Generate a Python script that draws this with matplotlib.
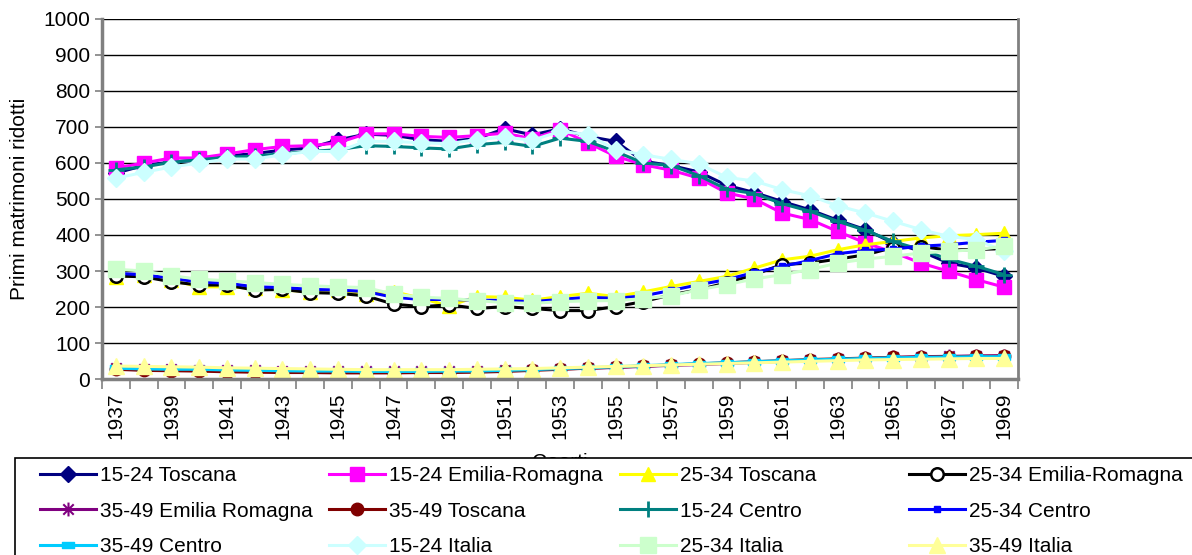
import matplotlib.pyplot as plt
from matplotlib.path import Path
from matplotlib.patches import Rectangle

anni = list(range(1937, 1970))

t_15_24 = [572, 593, 603, 608, 620, 626, 636, 642, 664, 680, 677, 665, 660, 668, 695, 678,
           695, 674, 660, 605, 593, 575, 538, 518, 493, 470, 441, 415, 378, 355, 322, 308, 285]
er_15_24 = [586, 600, 614, 614, 625, 637, 646, 648, 656, 681, 681, 674, 671, 676, 683, 667,
            693, 656, 619, 595, 580, 558, 517, 500, 461, 443, 410, 378, 352, 322, 299, 276, 255]
t_25_34 = [284, 289, 275, 256, 256, 252, 247, 243, 247, 236, 243, 224, 203, 229, 227, 219,
           229, 238, 229, 242, 257, 271, 285, 308, 331, 341, 359, 373, 382, 392, 398, 401, 405]
er_25_34 = [286, 284, 270, 261, 261, 247, 249, 240, 238, 231, 208, 201, 206, 196, 201, 196,
            190, 190, 201, 215, 234, 248, 267, 290, 318, 322, 333, 345, 365, 368, 358, 360, 362]
er_35_49 = [30, 28, 27, 26, 25, 24, 23, 22, 22, 21, 21, 21, 22, 22, 24, 26,
            28, 30, 32, 35, 38, 40, 43, 46, 49, 52, 55, 57, 60, 62, 63, 64, 65]
t_35_49 = [27, 24, 23, 22, 20, 19, 18, 18, 17, 17, 17, 18, 18, 19, 21, 24,
           27, 30, 33, 36, 39, 42, 45, 48, 51, 54, 56, 58, 60, 61, 62, 63, 63]
c_15_24 = [581, 589, 602, 609, 616, 619, 626, 632, 637, 648, 646, 642, 639, 651, 657, 646,
           669, 660, 632, 600, 593, 565, 527, 515, 487, 466, 438, 413, 382, 359, 333, 313, 290]
c_25_34 = [294, 289, 280, 269, 266, 256, 254, 249, 247, 243, 227, 221, 221, 219, 218, 215,
           221, 227, 224, 231, 246, 262, 276, 296, 313, 329, 348, 357, 361, 369, 373, 380, 385]
c_35_49 = [30, 28, 27, 27, 25, 24, 23, 22, 22, 21, 21, 21, 22, 22, 24, 26,
           29, 31, 34, 37, 40, 43, 45, 48, 51, 53, 55, 57, 59, 60, 61, 62, 62]
i_15_24 = [558, 574, 589, 600, 611, 611, 623, 632, 632, 660, 660, 656, 654, 665, 672, 663,
           688, 679, 637, 623, 610, 598, 560, 550, 526, 509, 481, 461, 438, 415, 396, 387, 355]
i_25_34 = [305, 300, 287, 277, 273, 268, 263, 259, 256, 254, 236, 227, 224, 218, 212, 210,
           215, 217, 218, 223, 231, 248, 262, 278, 290, 304, 322, 333, 341, 350, 355, 359, 369]
i_35_49 = [36, 35, 34, 33, 31, 30, 29, 28, 27, 26, 26, 26, 26, 27, 28, 29,
           31, 33, 35, 37, 39, 41, 43, 45, 47, 49, 51, 53, 54, 55, 56, 57, 57]

# asterisk marker: vertical bar plus an X
asterisco = Path([(0, -1), (0, 1), (-0.75, -0.75), (0.75, 0.75), (-0.75, 0.75), (0.75, -0.75)],
                 [Path.MOVETO, Path.LINETO, Path.MOVETO, Path.LINETO, Path.MOVETO, Path.LINETO])
trattino = Path([(-1, -0.55), (1, -0.55), (1, 0.55), (-1, 0.55), (-1, -0.55)],
                [Path.MOVETO, Path.LINETO, Path.LINETO, Path.LINETO, Path.CLOSEPOLY])

serie = [
    ("15-24 Toscana", t_15_24, dict(color='#000080', marker='D', ms=8)),
    ("15-24 Emilia-Romagna", er_15_24, dict(color='#FF00FF', marker='s', ms=10)),
    ("25-34 Toscana", t_25_34, dict(color='#FFFF00', marker='^', ms=10)),
    ("25-34 Emilia-Romagna", er_25_34, dict(color='black', marker='o', ms=9, mfc='white', mew=1.8)),
    ("35-49 Emilia Romagna", er_35_49, dict(color='#800080', marker=asterisco, ms=10, mew=1.5)),
    ("35-49 Toscana", t_35_49, dict(color='#800000', marker='o', ms=9)),
    ("15-24 Centro", c_15_24, dict(color='#008080', marker='+', ms=12, mew=2)),
    ("25-34 Centro", c_25_34, dict(color='#0000FF', marker='s', ms=4)),
    ("35-49 Centro", c_35_49, dict(color='#00CCFF', marker=trattino, ms=8)),
    ("15-24 Italia", i_15_24, dict(color='#CCFFFF', marker='D', ms=9)),
    ("25-34 Italia", i_25_34, dict(color='#CCFFCC', marker='s', ms=11)),
    ("35-49 Italia", i_35_49, dict(color='#FFFF99', marker='^', ms=12)),
]

plt.rcParams['font.family'] = ['Liberation Sans', 'DejaVu Sans']

fig = plt.figure(figsize=(11.92, 5.55), dpi=100)
ax = fig.add_axes([0.0856, 0.3171, 0.7685, 0.6487])

x = list(range(len(anni)))
handles = []
for nome, valori, stile in serie:
    h, = ax.plot(x, valori, lw=2.2, label=nome, **stile)
    handles.append(h)

ax.set_xlim(-0.5, len(anni) - 0.5)
ax.set_ylim(0, 1000)
ax.set_yticks(range(0, 1001, 100))
ax.yaxis.grid(True, color='black', lw=1)
ax.set_axisbelow(True)

ax.set_xticks(x[::2])
ax.set_xticklabels([str(a) for a in anni[::2]], rotation=90)
ax.set_xticks([i - 0.5 for i in range(len(anni) + 1)], minor=True)
ax.tick_params(axis='x', which='major', length=0, pad=10, labelsize=15)
ax.tick_params(axis='x', which='minor', length=7, width=1.2, color='#808080')
ax.tick_params(axis='y', length=5, width=1.2, color='#808080', labelsize=15)

for lato in ['left', 'bottom']:
    ax.spines[lato].set_color('#808080')
    ax.spines[lato].set_linewidth(2.5)
ax.spines['right'].set_color('#808080')
ax.spines['right'].set_linewidth(2)
ax.spines['top'].set_visible(False)

ax.set_ylabel('Primi matrimoni ridotti', fontsize=15, labelpad=10)
ax.set_xlabel('Coorti', fontsize=15, labelpad=10)

# legend box with four equally spaced columns
fig.patches.append(Rectangle((15 / 1192, -0.05), 1.0, 0.05 + 1 - 458 / 555,
                             transform=fig.transFigure, facecolor='white',
                             edgecolor='black', lw=1.2, zorder=4))
colonne = [[0, 4, 8], [1, 5, 9], [2, 6, 10], [3, 7, 11]]
x_col = [40, 329, 620, 909]
for xc, idx in zip(x_col, colonne):
    fig.legend([handles[i] for i in idx], [serie[i][0] for i in idx],
               loc='upper left', bbox_to_anchor=(xc / 1192, 1 - 466 / 555),
               frameon=False, fontsize=15, handlelength=2.7, handletextpad=0.2,
               labelspacing=0.8, borderpad=0, borderaxespad=0, markerscale=1)

fig.savefig('out.png', dpi=100)
